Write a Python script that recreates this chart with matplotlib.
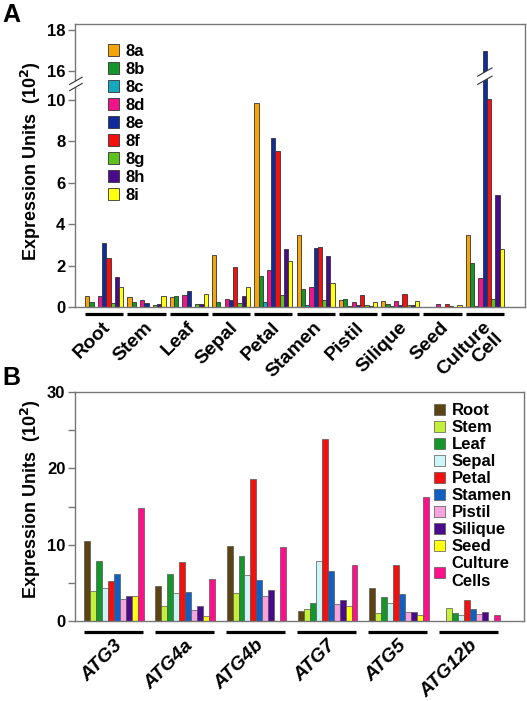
import matplotlib.pyplot as plt
from matplotlib.patches import Polygon
from matplotlib.transforms import blended_transform_factory

plt.rcParams['font.family'] = ['Liberation Sans', 'DejaVu Sans']
plt.rcParams['font.weight'] = 'bold'

# ---- panel A data (ATG8 isoforms over tissues, units of 10^2) ----
tissues_a = ["Root", "Stem", "Leaf", "Sepal", "Petal", "Stamen", "Pistil",
             "Silique", "Seed", "Culture\nCell"]
isoforms = ["8a", "8b", "8c", "8d", "8e", "8f", "8g", "8h", "8i"]
v8a = [0.51, 0.46, 0.46, 2.52, 9.87, 3.46, 0.33, 0.29, 0.0, 3.49]
v8b = [0.24, 0.22, 0.52, 0.24, 1.51, 0.86, 0.37, 0.14, 0.0, 2.11]
v8c = [0.0, 0.0, 0.0, 0.0, 0.24, 0.11, 0.05, 0.05, 0.0, 0.05]
v8d = [0.54, 0.33, 0.60, 0.37, 1.81, 0.95, 0.24, 0.29, 0.14, 1.42]
v8e = [3.10, 0.19, 0.78, 0.33, 8.15, 2.87, 0.08, 0.11, 0.0, 16.95]
v8f = [2.37, 0.0, 0.0, 1.95, 7.54, 2.89, 0.57, 0.65, 0.13, 10.05]
v8g = [0.19, 0.11, 0.13, 0.19, 0.59, 0.33, 0.10, 0.08, 0.06, 0.37]
v8h = [1.43, 0.14, 0.13, 0.54, 2.79, 2.44, 0.05, 0.08, 0.0, 5.40]
v8i = [0.98, 0.51, 0.62, 0.98, 2.24, 1.14, 0.22, 0.29, 0.08, 2.79]
series_a = [v8a, v8b, v8c, v8d, v8e, v8f, v8g, v8h, v8i]
colors_a = ['#F7A30A', '#15962A', '#16A8C0', '#F0148A', '#0E2C9C',
            '#F51010', '#5CC21C', '#4A0A8C', '#FFFF10']

# broken y axis: values above the break are shifted down by GAP
BREAK = 10.5
GAP = 4.6
yticks_a = [0, 2, 4, 6, 8, 10, 16, 18]

# ---- panel B data (ATG genes over tissues) ----
genes_b = ["ATG3", "ATG4a", "ATG4b", "ATG7", "ATG5", "ATG12b"]
tissues_b = ["Root", "Stem", "Leaf", "Sepal", "Petal", "Stamen", "Pistil",
             "Silique", "Seed", "Culture\nCells"]
root = [10.47, 4.56, 9.77, 1.31, 4.34, 0.0]
stem = [3.90, 1.97, 3.72, 1.62, 1.10, 1.75]
leaf = [7.84, 6.13, 8.54, 2.37, 3.11, 1.10]
sepal = [4.38, 3.72, 6.09, 7.88, 2.41, 0.83]
petal = [5.26, 7.71, 18.66, 23.87, 7.36, 2.72]
stamen = [6.22, 3.77, 5.39, 6.61, 3.59, 1.53]
pistil = [2.93, 1.45, 3.24, 2.19, 1.23, 0.96]
silique = [3.33, 1.93, 4.03, 2.72, 1.14, 1.23]
seed = [3.24, 0.70, 0.0, 2.01, 0.83, 0.0]
culture = [14.80, 5.56, 9.64, 7.31, 16.25, 0.79]
series_b = [root, stem, leaf, sepal, petal, stamen, pistil, silique, seed, culture]
colors_b = ['#5C4412', '#C4F03A', '#15962A', '#CCF6F6', '#F51010', '#1060C4',
            '#F8A4DC', '#4A0A8C', '#FFFF10', '#FF108A']


def disp(v):
    return v if v <= BREAK else v - GAP


W, H = 527, 701
fig = plt.figure(figsize=(W / 100, H / 100), dpi=100)


def px_axes(left, top, right, bottom):
    return fig.add_axes([left / W, 1 - bottom / H, (right - left) / W, (bottom - top) / H])


def style(ax):
    for s in ax.spines.values():
        s.set_color('#777777')
        s.set_linewidth(1.0)
    ax.tick_params(axis='y', direction='out', length=5, width=1, color='#777777',
                   labelsize=12, pad=2)
    ax.tick_params(axis='x', length=0, labelbottom=False)
    for lab in ax.get_yticklabels():
        lab.set_fontweight('bold')


# ================= panel A =================
ax = px_axes(75, 24, 525, 307)
wa = 0.1
bars_a = []
for j, (vals, c) in enumerate(zip(series_a, colors_a)):
    xs = [i + (j - 4) * wa for i in range(len(tissues_a))]
    b = ax.bar(xs, [disp(v) for v in vals], width=wa, color=c,
               edgecolor='#333333', linewidth=0.6)
    bars_a.append(b)
ax.set_xlim(-0.69, 9.95)
ax.set_ylim(0, 13.67)
ax.set_yticks([disp(t) for t in yticks_a])
ax.set_yticklabels([str(t) for t in yticks_a])
style(ax)

# axis break marks
tb = blended_transform_factory(ax.transAxes, ax.transData)
ax.add_patch(Polygon([(-0.012, 10.45), (0.016, 10.8), (0.016, 11.1), (-0.012, 10.75)],
                     closed=True, facecolor='white', edgecolor='none',
                     transform=tb, clip_on=False, zorder=5))
for y0 in (10.45, 10.75):
    ax.plot([-0.012, 0.016], [y0, y0 + 0.35], color='#333333', lw=0.8,
            transform=tb, clip_on=False, zorder=6)

# bar break marks on the tallest bar
for j, vals in enumerate(series_a):
    for i, v in enumerate(vals):
        if v > BREAK:
            xc = i + (j - 4) * wa
            x0, x1 = xc - 0.17, xc + 0.17
            ax.add_patch(Polygon([(x0, 10.75), (x1, 11.15), (x1, 11.55), (x0, 11.15)],
                                 closed=True, facecolor='white', edgecolor='none', zorder=5))
            for y0 in (10.75, 11.15):
                ax.plot([x0, x1], [y0, y0 + 0.4], color='#333333', lw=0.8, zorder=6)

# group underlines and labels
tx = blended_transform_factory(ax.transData, ax.transAxes)
for i, name in enumerate(tissues_a):
    ax.plot([i - 0.45, i + 0.45], [-0.025, -0.025], color='black', lw=2.3,
            transform=tx, clip_on=False, solid_capstyle='butt')
    ax.text(i - 0.05, -0.042, name, transform=tx, rotation=45, ha='right', va='top',
            rotation_mode='anchor', fontsize=14, fontweight='bold',
            multialignment='right', linespacing=0.9)

ax.legend(bars_a, isoforms, loc='upper left', bbox_to_anchor=(0.074, 0.93),
          frameon=False, handlelength=0.65, handleheight=0.65,
          handletextpad=0.4, labelspacing=0.18, borderpad=0, borderaxespad=0,
          prop={'weight': 'bold', 'size': 12})

# ================= panel B =================
bx = px_axes(75, 392, 524, 621)
wb = 0.084
bars_b = []
for j, (vals, c) in enumerate(zip(series_b, colors_b)):
    xs = [i + (j - 4.5) * wb for i in range(len(genes_b))]
    b = bx.bar(xs, vals, width=wb, color=c, edgecolor='#555555', linewidth=0.5)
    bars_b.append(b)
bx.set_xlim(-0.55, 5.76)
bx.set_ylim(0, 30)
bx.set_yticks([0, 10, 20, 30])
bx.set_yticks([5, 15, 25], minor=True)
style(bx)
bx.tick_params(axis='y', which='minor', direction='out', length=5, width=1, color='#777777')

txb = blended_transform_factory(bx.transData, bx.transAxes)
for i, name in enumerate(genes_b):
    bx.plot([i - 0.43, i + 0.40], [-0.048, -0.048], color='black', lw=2.3,
            transform=txb, clip_on=False, solid_capstyle='butt')
    bx.text(i - 0.01, -0.07, name, transform=txb, rotation=45, ha='right', va='top',
            rotation_mode='anchor', fontsize=14, fontweight='bold', fontstyle='italic')

bx.legend(bars_b, tissues_b, loc='upper left', bbox_to_anchor=(0.80, 0.95),
          frameon=False, handlelength=0.65, handleheight=0.65,
          handletextpad=0.4, labelspacing=0.12, borderpad=0, borderaxespad=0,
          prop={'weight': 'bold', 'size': 12})

# axis titles and panel letters
for yc in (0.770, 0.288):
    fig.text(0.058, yc, r'Expression Units  (10$^\mathbf{2}$)', rotation=90,
             ha='center', va='center', fontsize=13, fontweight='bold')
fig.text(0.004, 1 - 3 / H, 'A', ha='left', va='top', fontsize=18, fontweight='bold')
fig.text(0.004, 1 - 366 / H, 'B', ha='left', va='top', fontsize=18, fontweight='bold')

fig.savefig('out.png', dpi=100)
